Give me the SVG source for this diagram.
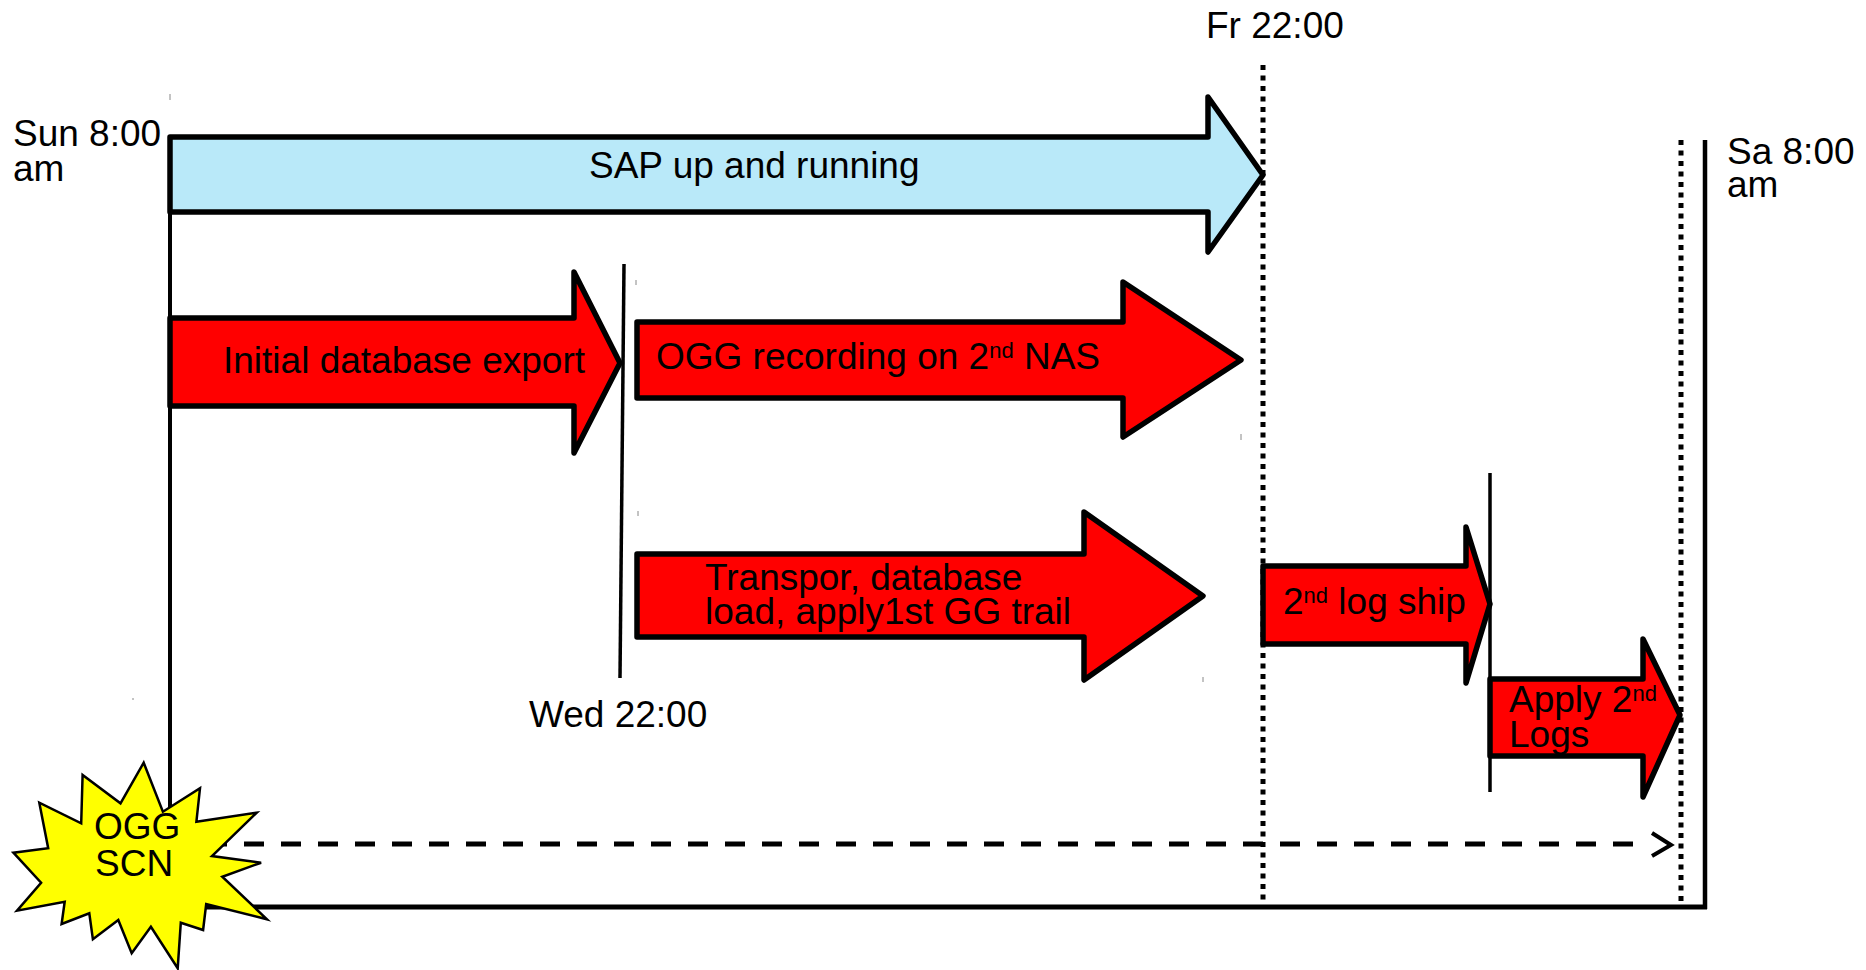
<svg xmlns="http://www.w3.org/2000/svg" width="1866" height="970" viewBox="0 0 1866 970">
<style>
text{font-family:"Liberation Sans",Arial,sans-serif;font-size:37px;fill:#000}
.sup{font-size:22px}
.arrow{stroke:#000;stroke-width:5.5;stroke-linejoin:round}
.red{fill:#ff0000}
.blue{fill:#b9e9f9}
.solid{stroke:#000;fill:none}
.dot{stroke:#000;stroke-width:5;stroke-dasharray:5 5.5;fill:none}
.tick{stroke:#888;stroke-width:1;fill:none}
</style>
<rect x="0" y="0" width="1866" height="970" fill="#fff"/>
<g id="connectors">
  <line class="solid" x1="170" y1="137" x2="170" y2="907" stroke-width="4"/>
  <line class="solid" x1="168" y1="907" x2="1707" y2="907" stroke-width="5"/>
  <line class="solid" x1="1705" y1="140" x2="1705" y2="909" stroke-width="4.5"/>
  <line class="dot" x1="1263" y1="65" x2="1263" y2="907"/>
  <line class="dot" x1="1681" y1="140" x2="1681" y2="907"/>
  <line class="solid" x1="624" y1="264" x2="620" y2="678" stroke-width="3.5"/>
  <line class="solid" x1="1490" y1="473" x2="1490" y2="792" stroke-width="3.5"/>
  <line class="solid" x1="170" y1="844" x2="1648" y2="844" stroke-width="5" stroke-dasharray="20 17"/>
  <polyline class="solid" points="1652,833 1671,845 1652,856" stroke-width="4"/>
  <line class="tick" x1="170" y1="94" x2="170" y2="100"/>
  <line class="tick" x1="636" y1="280" x2="636" y2="285"/>
  <line class="tick" x1="638" y1="511" x2="638" y2="516"/>
  <line class="tick" x1="1241" y1="434" x2="1241" y2="440"/>
  <line class="tick" x1="1203" y1="677" x2="1203" y2="682"/>
  <line class="tick" x1="133" y1="698" x2="133" y2="700"/>
</g>
<g id="sap">
  <polygon class="arrow blue" points="170,137 1208,137 1208,97 1263,175 1208,252 1208,212 170,212"/>
  <text x="589" y="178">SAP up and running</text>
</g>
<g id="export">
  <polygon class="arrow red" points="170,318 574,318 574,272 620,363 574,453 574,406 170,406"/>
  <text x="223" y="373">Initial database export</text>
</g>
<g id="ogg-recording">
  <polygon class="arrow red" points="637,322 1123,322 1123,282 1241,360 1123,437 1123,398 637,398"/>
  <text x="656" y="369">OGG recording on 2<tspan class="sup" dy="-11">nd</tspan><tspan dy="11"> NAS</tspan></text>
</g>
<g id="transport">
  <polygon class="arrow red" points="637,554 1084,554 1084,512 1203,596 1084,680 1084,637 637,637"/>
  <text x="705" y="590">Transpor, database<tspan x="705" dy="34">load, apply1st GG trail</tspan></text>
</g>
<g id="log-ship">
  <polygon class="arrow red" points="1263,566 1466,566 1466,527 1490,604 1466,683 1466,644 1263,644"/>
  <text x="1283" y="614">2<tspan class="sup" dy="-11">nd</tspan><tspan dy="11"> log ship</tspan></text>
</g>
<g id="apply-logs">
  <polygon class="arrow red" points="1490,679 1643,679 1643,639 1680,715 1643,797 1643,756 1490,756"/>
  <text x="1509" y="712">Apply 2<tspan class="sup" dy="-11">nd</tspan><tspan x="1509" dy="46">Logs</tspan></text>
</g>
<g id="labels">
  <text x="1206" y="38">Fr 22:00</text>
  <text x="13" y="146">Sun 8:00<tspan x="13" dy="35">am</tspan></text>
  <text x="1727" y="164">Sa 8:00<tspan x="1727" dy="33">am</tspan></text>
  <text x="529" y="727">Wed 22:00</text>
</g>
<g id="ogg-scn">
  <polygon fill="#ffff00" stroke="#000" stroke-width="2.5" stroke-linejoin="miter" points="143.7,762.7 162.9,811.7 200,788.3 196.4,821.7 256.7,812.7 212,856 261.1,862.7 222.3,876.7 267,919.3 206.2,904 203.1,930 180.8,922.7 177.7,968.3 150.9,926.7 131.7,953.3 118.3,920 92.9,939.3 89.3,913.3 61.6,924 64.7,901.7 17,910.7 41.1,882.7 13.4,852.7 48.2,848.3 39.3,802.7 81.2,823.3 82.6,775 120.5,803.3"/>
  <text x="94" y="839">OGG<tspan x="95" dy="37">SCN</tspan></text>
</g>
</svg>
